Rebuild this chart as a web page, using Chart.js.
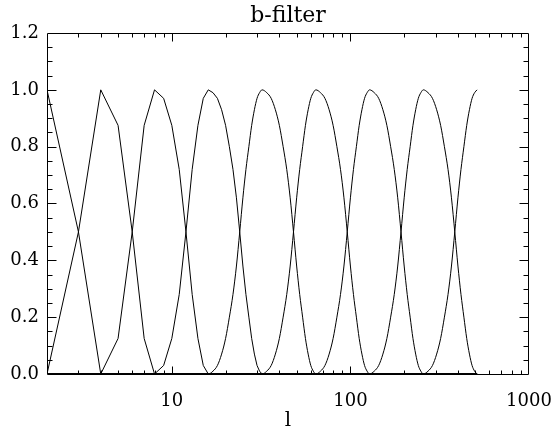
<!DOCTYPE html>
<html>
<head>
<meta charset="utf-8">
<script src="https://cdn.jsdelivr.net/npm/chart.js@4.4.1/dist/chart.umd.min.js"></script>
<style>
  html, body { margin: 0; padding: 0; background: #fff; }
</style>
</head>
<body>
<canvas id="bFilterChart" width="556" height="429"></canvas>
<script>
// filtros b, cada uno con su pico en l = 2, 4, 8, ... 512
const l_p2 = [2, 3, 4, 512];
const b_p2 = [1, 0.5, 0, 0];

const l_p4 = [2, 3, 4, 5, 6, 7, 8, 512];
const b_p4 = [0, 0.5, 1, 0.875, 0.5, 0.125, 0, 0];

const l_p8 = [2, 4, 5, 6, 7, 8, 9, 10, 11, 12, 13, 14, 15, 16, 512];
const b_p8 = [0, 0, 0.125, 0.5, 0.875, 1, 0.97, 0.875, 0.72, 0.5, 0.28, 0.125, 0.03, 0, 0];

const l_p16 = [2, 8, 9, 10, 11, 12, 13, 14, 15, 16, 17, 18, 19, 20, 21, 22, 23, 24,
               25, 26, 27, 28, 29, 30, 31, 32, 512];
const b_p16 = [0, 0, 0.03, 0.125, 0.28, 0.5, 0.72, 0.875, 0.97, 1, 0.99, 0.97, 0.93, 0.875,
               0.8, 0.72, 0.62, 0.5, 0.38, 0.28, 0.2, 0.125, 0.07, 0.03, 0.01, 0, 0];

const l_p32 = [2, 16, 17, 18, 19, 20, 21, 22, 23, 24, 25, 26, 27, 28, 29, 30, 31, 32,
               34, 36, 38, 40, 42, 44, 46, 48, 50, 52, 54, 56, 58, 60, 62, 64, 512];
const b_p32 = [0, 0, 0.01, 0.03, 0.07, 0.125, 0.2, 0.28, 0.38, 0.5, 0.62, 0.72, 0.8, 0.875, 0.93, 0.97, 0.99, 1,
               0.99, 0.97, 0.93, 0.875, 0.8, 0.72, 0.62, 0.5, 0.38, 0.28, 0.2, 0.125, 0.07, 0.03, 0.01, 0, 0];

const l_p64 = [2, 32, 34, 36, 38, 40, 42, 44, 46, 48, 50, 52, 54, 56, 58, 60, 62, 64,
               68, 72, 76, 80, 84, 88, 92, 96, 100, 104, 108, 112, 116, 120, 124, 128, 512];
const b_p64 = [0, 0, 0.01, 0.03, 0.07, 0.125, 0.2, 0.28, 0.38, 0.5, 0.62, 0.72, 0.8, 0.875, 0.93, 0.97, 0.99, 1,
               0.99, 0.97, 0.93, 0.875, 0.8, 0.72, 0.62, 0.5, 0.38, 0.28, 0.2, 0.125, 0.07, 0.03, 0.01, 0, 0];

const l_p128 = [2, 64, 68, 72, 76, 80, 84, 88, 92, 96, 100, 104, 108, 112, 116, 120, 124, 128,
                136, 144, 152, 160, 168, 176, 184, 192, 200, 208, 216, 224, 232, 240, 248, 256, 512];
const b_p128 = [0, 0, 0.01, 0.03, 0.07, 0.125, 0.2, 0.28, 0.38, 0.5, 0.62, 0.72, 0.8, 0.875, 0.93, 0.97, 0.99, 1,
                0.99, 0.97, 0.93, 0.875, 0.8, 0.72, 0.62, 0.5, 0.38, 0.28, 0.2, 0.125, 0.07, 0.03, 0.01, 0, 0];

const l_p256 = [2, 128, 136, 144, 152, 160, 168, 176, 184, 192, 200, 208, 216, 224, 232, 240, 248, 256,
                272, 288, 304, 320, 336, 352, 368, 384, 400, 416, 432, 448, 464, 480, 496, 512];
const b_p256 = [0, 0, 0.01, 0.03, 0.07, 0.125, 0.2, 0.28, 0.38, 0.5, 0.62, 0.72, 0.8, 0.875, 0.93, 0.97, 0.99, 1,
                0.99, 0.97, 0.93, 0.875, 0.8, 0.72, 0.62, 0.5, 0.38, 0.28, 0.2, 0.125, 0.07, 0.03, 0.01, 0];

const l_p512 = [2, 256, 272, 288, 304, 320, 336, 352, 368, 384, 400, 416, 432, 448, 464, 480, 496, 512];
const b_p512 = [0, 0, 0.01, 0.03, 0.07, 0.125, 0.2, 0.28, 0.38, 0.5, 0.62, 0.72, 0.8, 0.875, 0.93, 0.97, 0.99, 1];

const xTickVals = [10, 100, 1000];
const yTickVals = [0, 0.2, 0.4, 0.6, 0.8, 1.0, 1.2];

// los primeros filtros se ven como poligonales, los demas suaves
const filtros = [
    [l_p2, b_p2, false], [l_p4, b_p4, false], [l_p8, b_p8, false], [l_p16, b_p16, false],
    [l_p32, b_p32, true], [l_p64, b_p64, true], [l_p128, b_p128, true],
    [l_p256, b_p256, true], [l_p512, b_p512, true]
];

const fuente = 'DejaVu Serif';

// marco completo con marcas hacia adentro, estilo IDL
const marcasEjes = {
    id: 'marcasEjes',
    afterDraw(chart) {
        const { ctx, chartArea: a, scales: { x, y } } = chart;
        const L = Math.round(a.left) + 0.5, R = Math.round(a.right) - 0.5;
        const T = Math.round(a.top) + 0.5, B = Math.round(a.bottom) + 0.5;
        ctx.save();
        ctx.strokeStyle = '#000';
        ctx.lineWidth = 1;
        ctx.beginPath();
        ctx.rect(L, T, R - L, B - T);
        for (let i = 1; i < 24; i++) {
            const py = Math.round(y.getPixelForValue(i * 0.05)) + 0.5;
            const len = i % 4 === 0 ? 9 : 5;
            ctx.moveTo(L, py); ctx.lineTo(L + len, py);
            ctx.moveTo(R, py); ctx.lineTo(R - len, py);
        }
        for (const d of [1, 10, 100]) {
            for (let m = 1; m <= 9; m++) {
                const v = m * d;
                if (v <= 2 || v >= 1000) continue;
                const px = Math.round(x.getPixelForValue(v)) + 0.5;
                const len = m === 1 ? 8 : 4;
                ctx.moveTo(px, B); ctx.lineTo(px, B - len);
                ctx.moveTo(px, T); ctx.lineTo(px, T + len);
            }
        }
        ctx.stroke();
        ctx.restore();
    }
};

const ctx = document.getElementById('bFilterChart').getContext('2d');

new Chart(ctx, {
    type: 'line',
    data: {
        datasets: filtros.map(([ls, bs, suave]) => ({
            data: ls.map((l, i) => ({ x: l, y: bs[i] })),
            borderColor: '#000',
            borderWidth: 1,
            pointRadius: 0,
            fill: false,
            cubicInterpolationMode: suave ? 'monotone' : 'default',
            tension: 0
        }))
    },
    options: {
        responsive: false,
        devicePixelRatio: 1,
        animation: false,
        layout: { padding: 0 },
        plugins: {
            legend: { display: false },
            tooltip: { enabled: false },
            title: {
                display: true,
                text: 'b-filter',
                fullSize: false,
                color: '#000',
                font: { family: fuente, size: 22, weight: 'normal' },
                padding: { top: 3, bottom: 3.6 }
            }
        },
        scales: {
            x: {
                type: 'logarithmic',
                min: 2,
                max: 1000,
                afterBuildTicks: s => { s.ticks = xTickVals.map(v => ({ value: v })); },
                afterFit: s => {
                    s.height = 55;
                    s.paddingLeft = 0;
                    s.paddingRight = 27;
                },
                grid: { display: false, drawTicks: false },
                border: { display: false },
                ticks: {
                    color: '#000',
                    font: { family: fuente, size: 18 },
                    padding: 17,
                    maxRotation: 0,
                    autoSkip: false,
                    callback: v => String(v)
                },
                title: {
                    display: true,
                    text: 'l',
                    color: '#000',
                    font: { family: fuente, size: 20, lineHeight: 0.8 },
                    padding: 0
                }
            },
            y: {
                min: 0,
                max: 1.2,
                afterBuildTicks: s => { s.ticks = yTickVals.map(v => ({ value: v })); },
                afterFit: s => { s.width = 47; },
                grid: { display: false, drawTicks: false },
                border: { display: false },
                ticks: {
                    color: '#000',
                    font: { family: fuente, size: 18 },
                    padding: 8,
                    callback: v => v.toFixed(1)
                }
            }
        }
    },
    plugins: [marcasEjes]
});
</script>
</body>
</html>
